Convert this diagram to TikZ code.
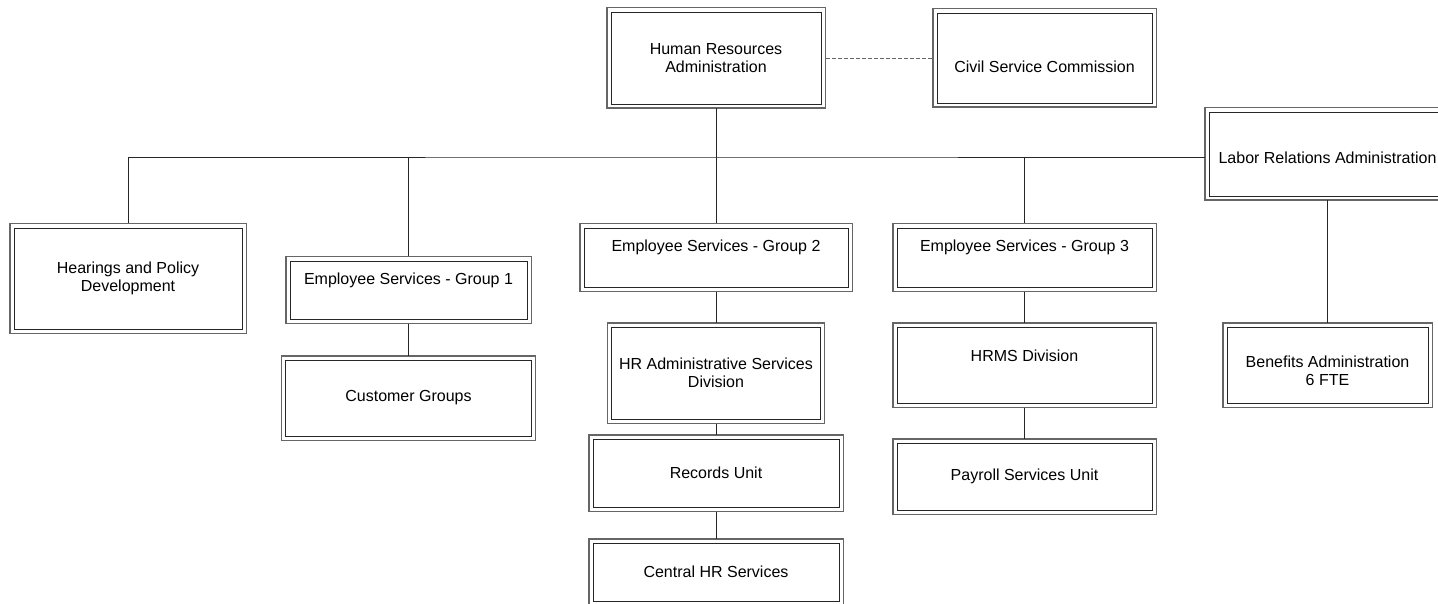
\documentclass[tikz,border=0pt]{standalone}
\usepackage{fontspec}
\setmainfont{Liberation Sans}
\newcommand{\orgfont}{\fontsize{16}{18}\selectfont}
\newcommand{\liftby}[2]{\raisebox{#1}[\height][\depth]{#2}}
\tikzset{
  orgbox/.style={draw=black!85, fill=white, line width=0.9pt, inner sep=2pt,
    outer sep=4.5pt, align=center, font=\orgfont,
    preaction={draw=black!60, line width=9.6pt},
    preaction={draw=white, line width=7pt}},
  link/.style={draw=black!85, line width=0.9pt},
  dotlink/.style={draw=black!60, line width=0.9pt, dash pattern=on 4pt off 2pt}
}

\begin{document}
\begin{tikzpicture}[x=1pt, y=-1pt]
  \useasboundingbox (0,0) rectangle (1438,604);
  \clip (0,0) rectangle (1438,604);

  % top level
  \node[orgbox, minimum width=210, minimum height=92] (hra) at (716,58)
    {Human Resources\\Administration};
  \node[orgbox, minimum width=215, minimum height=90] (csc) at (1044.5,58)
    {\liftby{-9pt}{Civil Service Commission}};
  \node[orgbox, minimum width=237, minimum height=84] (lra) at (1327.5,154)
    {\liftby{-4pt}{Labor Relations Administration}};

  % second level
  \node[orgbox, minimum width=228, minimum height=101] (hpd) at (128,278.5)
    {Hearings and Policy\\Development};
  \node[orgbox, minimum width=237, minimum height=58] (esg1) at (408.5,290)
    {\liftby{10pt}{Employee Services - Group 1}};
  \node[orgbox, minimum width=264, minimum height=59] (esg2) at (716,257.5)
    {\liftby{10pt}{Employee Services - Group 2}};
  \node[orgbox, minimum width=255, minimum height=59] (esg3) at (1024.5,257.5)
    {\liftby{10pt}{Employee Services - Group 3}};
  \node[orgbox, minimum width=201, minimum height=76] (ben) at (1327.5,365)
    {\liftby{-8pt}{\begin{tabular}{@{}c@{}}Benefits Administration\\6 FTE\end{tabular}}};

  % lower levels
  \node[orgbox, minimum width=246, minimum height=76] (cust) at (408.5,398)
    {Customer Groups};
  \node[orgbox, minimum width=209, minimum height=92] (hrasd) at (716,373)
    {HR Administrative Services\\Division};
  \node[orgbox, minimum width=246, minimum height=68] (rec) at (716,473)
    {Records Unit};
  \node[orgbox, minimum width=246, minimum height=58] (chr) at (716,572)
    {Central HR Services};
  \node[orgbox, minimum width=255, minimum height=76] (hrms) at (1024.5,365)
    {\liftby{9pt}{HRMS Division}};
  \node[orgbox, minimum width=255, minimum height=67] (pay) at (1024.5,476.5)
    {Payroll Services Unit};

  % connectors
  \coordinate (bus) at (716,157);
  \draw[dotlink] (hra.east) -- (hra.east -| csc.west);
  \draw[link] (hra.south) -- (esg2.north);
  \draw[link] (hpd.north) |- (bus) -- (bus -| lra.west);
  \draw[link] (esg1.north) -- (esg1.north |- bus);
  \draw[link] (esg3.north) -- (esg3.north |- bus);
  \draw[link] (lra.south) -- (ben.north);
  \draw[link] (esg1.south) -- (cust.north);
  \draw[link] (esg2.south) -- (hrasd.north);
  \draw[link] (hrasd.south) -- (rec.north);
  \draw[link] (rec.south) -- (chr.north);
  \draw[link] (esg3.south) -- (hrms.north);
  \draw[link] (hrms.south) -- (pay.north);
\end{tikzpicture}
\end{document}
